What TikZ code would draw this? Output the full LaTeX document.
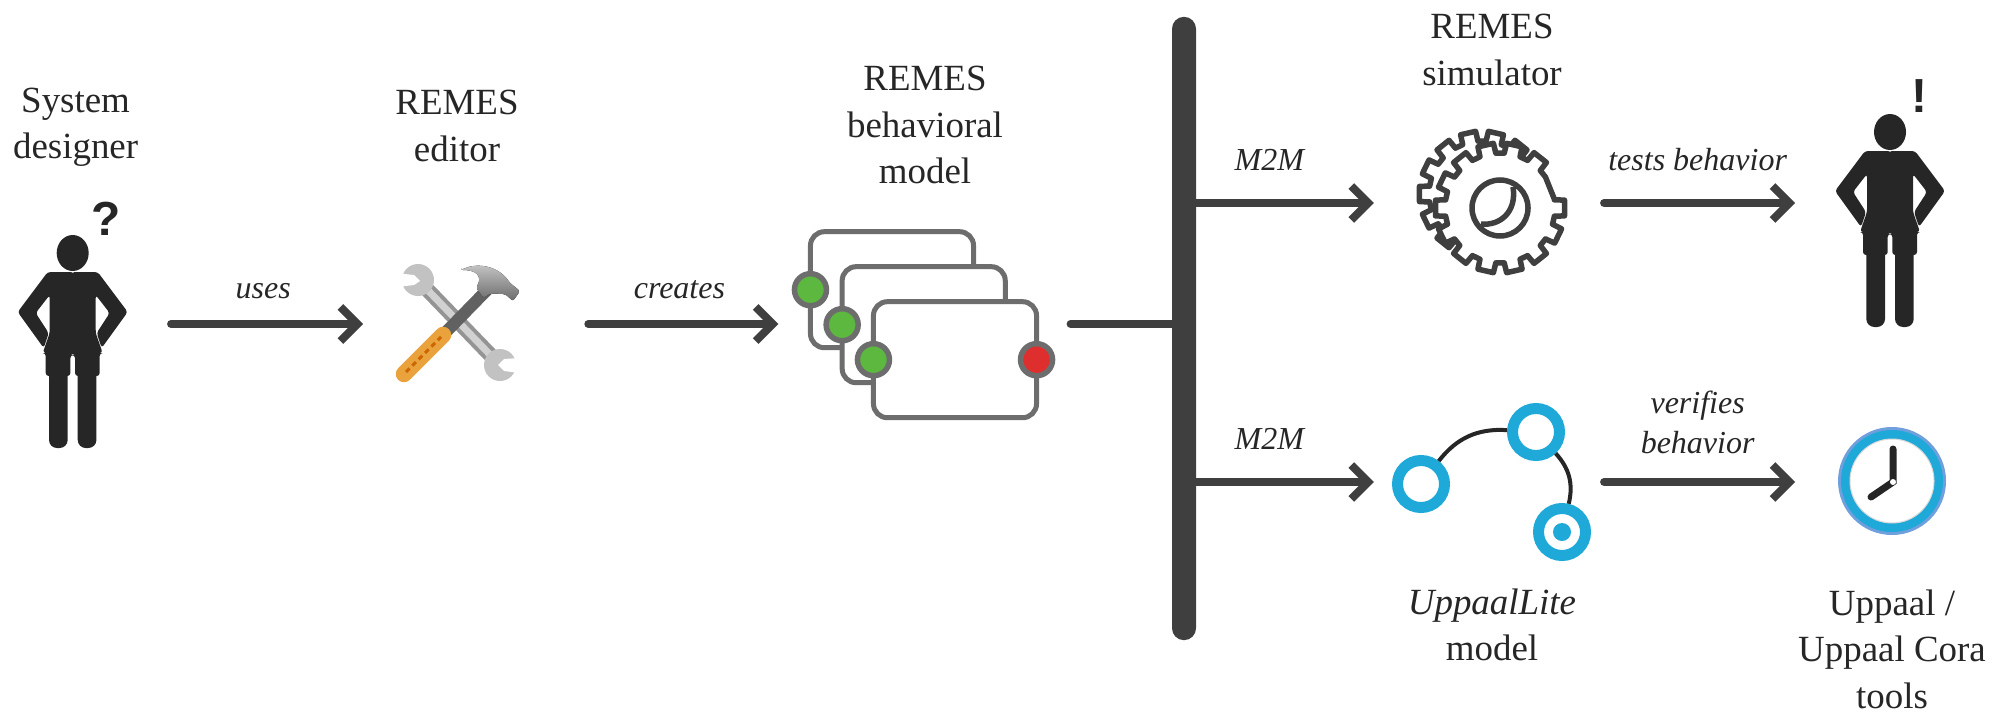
\documentclass[tikz,border=0pt]{standalone}
\usepackage{fontspec}
\setmainfont{Liberation Serif}
\newfontfamily\marksans{Liberation Sans}
\usetikzlibrary{arrows.meta, positioning, calc}
\definecolor{flowgray}{HTML}{3F3F3F}
\definecolor{bodygray}{HTML}{262626}
\definecolor{framegray}{HTML}{6D6D6D}
\definecolor{portgreen}{HTML}{5CB83F}
\definecolor{portred}{HTML}{DF2E2E}
\definecolor{stateblue}{HTML}{1FA9D9}
\definecolor{clockrim}{HTML}{6F9FDC}
\definecolor{handleorange}{HTML}{E9A23C}
\tikzset{
	person/.pic={
		\fill[bodygray] (0,0) ellipse[x radius=16, y radius=18];
		\foreach \s in {-1,1} {
			\fill[bodygray, xscale=\s, rounded corners=.03cm] (1,19) -- (-25,19) -- (-55,59) -- (-29,95) -- (-24,80) -- (-37,60) -- (-23,42) -- (-23,80) -- (-30,100) -- (-27,100) -- (-27,123) -- (-2.3,123) -- (-2.3,102) -- (1,102) -- cycle;
			\fill[bodygray, xscale=\s, rounded corners=.08cm] (-23.7,115) rectangle (-5,195);
		}
	}
}
\begin{document}
\begin{tikzpicture}[
	x=0.01cm, y=-0.01cm,
	>={Straight Barb[length=.17cm, width=.34cm]},
	flow/.style={draw=flowgray, line width=.08cm, line cap=round, shorten <=.04cm, ->},
	spot/.style={inner sep=0pt, outer sep=0pt, minimum height=.1cm},
	captext/.style={align=center, inner sep=0pt, text=bodygray, font=\fontsize{10.5}{13.2}\selectfont},
	verbtext/.style={align=center, inner sep=0pt, text depth=0pt, text=bodygray, font=\fontsize{9.1}{11.4}\selectfont\itshape},
	framebox/.style={draw=framegray, fill=white, line width=.05cm, rounded corners=.14cm, minimum width=1.63cm, minimum height=1.16cm, inner sep=0pt, outer sep=0pt},
	portdot/.style={circle, draw=framegray, line width=.055cm, minimum size=.32cm, inner sep=0pt},
	statering/.style={circle, draw=stateblue, line width=.11cm, minimum size=.47cm, inner sep=0pt}
	]
	\useasboundingbox (0,0) rectangle (2009,712);

	% --- spots the arrows run between ---
	\node[spot, minimum width=1.886cm] (designer) at (72.7,324) {};
	\node[spot, minimum width=2.21cm, right=1.96cm of designer] (editor) {};
	\node[spot, minimum width=2.88cm, right=1.94cm of editor] (model) {};
	\node[draw=none, fill=flowgray, rounded corners=.12cm, minimum width=.24cm, minimum height=6.23cm, inner sep=0pt] (bar) at (1184,328.5) {};
	\node[spot, minimum width=2.26cm] (simulator) at (1487,203) {};
	\node[spot, minimum width=2cm, right=1.95cm of simulator] (tester) {};
	\node[spot, minimum width=2.26cm] (uppaal) at (1487,482) {};
	\node[spot, minimum width=2cm, right=1.95cm of uppaal] (tools) {};

	% --- captions ---
	\node[captext] (designerlabel) at (75.6,127.5) {System\\designer};
	\node[captext] (editorlabel) at (457,126) {REMES\\editor};
	\node[captext] (modellabel) at (925,125) {REMES\\behavioral\\model};
	\node[captext] (simulatorlabel) at (1492,50) {REMES\\simulator};
	\node[captext] (uppaallabel) at (1492,625) {\textit{UppaalLite}\\model};
	\node[captext] (toolslabel) at (1892,649) {Uppaal /\\Uppaal Cora\\tools};

	% --- arrows ---
	\draw[flow] (designer.east) -- node[verbtext, above=.21cm, pos=.49] {uses} (editor.west);
	\draw[flow] (editor.east) -- node[verbtext, above=.21cm, pos=.49] {creates} (model.west);
	\draw[draw=flowgray, line width=.08cm, line cap=round, shorten <=.04cm] (model.east) -- (model.east -| bar.west);
	\draw[flow, shorten <=0pt] (bar.east |- simulator.west) -- node[verbtext, above=.28cm, pos=.41] {M2M} (simulator.west);
	\draw[flow, shorten <=0pt] (bar.east |- uppaal.west) -- node[verbtext, above=.28cm, pos=.41] {M2M} (uppaal.west);
	\draw[flow] (simulator.east) -- node[verbtext, above=.28cm] {tests behavior} (tester.west);
	\draw[flow] (uppaal.east) -- node[verbtext, above=.24cm] {verifies\\behavior} (tools.west);

	% --- people ---
	\pic at (72.7,253) {person};
	\pic at (1890,132) {person};
	\node[inner sep=0pt, text=bodygray, font=\fontsize{13.6}{14}\selectfont\marksans\bfseries] (doubt) at (106,219) {?};
	\node[inner sep=0pt, text=bodygray, font=\fontsize{13.6}{14}\selectfont\marksans\bfseries] (insight) at (1919,96) {!};

	% --- wrench and hammer ---
	\draw[line width=.15cm, color=black!42] (418,280) -- (500,365);
	\draw[line width=.07cm, color=black!18] (418,280) -- (500,365);
	\fill[black!24] (418,280) circle[radius=16] (500,365) circle[radius=16];
	\fill[white] (396,273) -- (414,275) -- (420,281) -- (414,285) -- (397,287) -- cycle;
	\fill[white] (519,358) -- (504,359) -- (498,365) -- (504,371) -- (519,373) -- cycle;
	\draw[line width=.12cm, color=black!62] (445,333) -- (488,289);
	\fill[top color=black!22, bottom color=black!58, rounded corners=.02cm] (461,270) .. controls (475,263) and (497,264) .. (510,283) -- (520,291) -- (513,301) -- (505,294) .. controls (497,294) and (490,292) .. (484,298) -- (476,288) .. controls (483,276) and (476,270) .. (461,270) -- cycle;
	\draw[line width=.165cm, color=handleorange, line cap=round] (404,374) -- (443,335);
	\draw[line width=.03cm, color=orange!80!black, dash pattern=on .05cm off .04cm] (406,372) -- (441,337);

	% --- REMES model frames ---
	\node[framebox] (frameA) at (892,289.7) {};
	\node[framebox] (frameB) at ([shift={(31.7,35)}]frameA.center) {};
	\node[framebox] (frameC) at ([shift={(31.3,35)}]frameB.center) {};
	\node[portdot, fill=portgreen] (portA) at (frameA.west) {};
	\node[portdot, fill=portgreen] (portB) at (frameB.west) {};
	\node[portdot, fill=portgreen] (portC) at (frameC.west) {};
	\node[portdot, fill=portred] (portD) at (frameC.east) {};

	% --- gears ---
	\foreach \cx/\cy/\r in {1482/194/63, 1500/208/65} {
		\draw[flowgray, fill=white, line width=.055cm, line join=round, shift={(\cx,\cy)}]
			(-9.5:\r-10) \foreach \a in {0,25.714,...,334} {
				-- (\a-8.5:\r-10) -- (\a-7:\r) -- (\a+7:\r) -- (\a+8.5:\r-10) -- (\a+17.2:\r-10)
			} -- cycle;
	}
	\draw[flowgray, line width=.055cm] (1500,208) ellipse[x radius=28, y radius=28];
	\draw[flowgray, line width=.055cm] (1513,187) .. controls (1517,212) and (1500,226) .. (1481,224);

	% --- UppaalLite automaton ---
	\node[statering] (stateA) at (1421,484) {};
	\node[statering] (stateB) at (1536,432) {};
	\node[statering] (stateC) at (1562,532) {};
	\fill[stateblue] (stateC.center) circle[radius=9];
	\draw[bodygray, line width=.04cm] (stateA) to[bend left=28] (stateB);
	\draw[bodygray, line width=.04cm] (stateB) to[bend left=28] (stateC);

	% --- clock ---
	\fill[clockrim] (1892,481) circle[radius=54];
	\fill[stateblue] (1892,481) circle[radius=51];
	\draw[white!85!black, fill=white, line width=.01cm] (1892,481) circle[radius=42];
	\draw[bodygray, line width=.07cm, line cap=round] (1893,449) -- (1893,482) -- (1871,497);
	\fill[white] (1893,482) circle[radius=3];
\end{tikzpicture}
\end{document}
